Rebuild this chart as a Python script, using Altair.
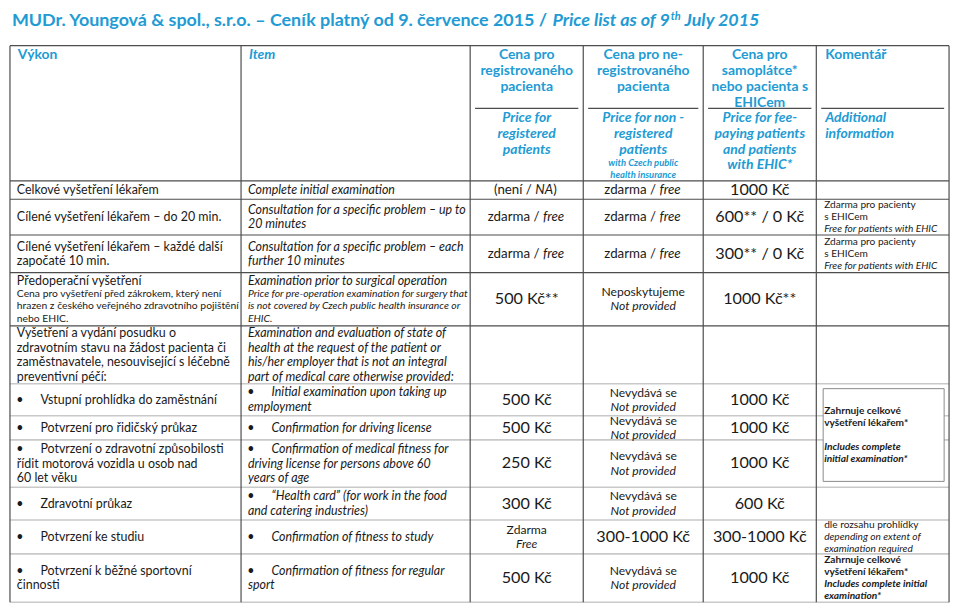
import altair as alt
import pandas as pd

# ---------------- content ----------------
TITLE_CZ = "MUDr. Youngová & spol., s.r.o. – Ceník platný od 9. července 2015 /"
TITLE_EN = "Price list as of 9"
TITLE_SUP = "th"
TITLE_END = "July 2015"

HEAD_LEFT = ["Výkon", "_Item_"]
HEAD_CZ = [["Cena pro", "registrovaného", "pacienta"],
           ["Cena pro ne-", "registrovaného", "pacienta"],
           ["Cena pro", "samoplátce*", "nebo pacienta s", "EHICem"],
           ["Komentář"]]
HEAD_EN = [["Price for", "registered", "patients"],
           ["Price for non -", "registered", "patients"],
           ["Price for fee-", "paying patients", "and patients", "with EHIC*"],
           ["Additional", "information"]]
HEAD_EN_NOTE = [[], ["with Czech public", "health insurance"], [], []]

VYKON = [
    ["Celkové vyšetření lékařem"],
    ["Cílené vyšetření lékařem – do 20 min."],
    ["Cílené vyšetření lékařem – každé další", "započaté 10 min."],
    ["Předoperační vyšetření", "~Cena pro vyšetření před zákrokem, který není",
     "~hrazen z českého veřejného zdravotního pojištění", "~nebo EHIC."],
    ["Vyšetření a vydání posudku o", "zdravotním stavu na žádost pacienta či",
     "zaměstnavatele, nesouvisející s léčebně", "preventivní péčí:"],
    ["• Vstupní prohlídka do zaměstnání"],
    ["• Potvrzení pro řidičský průkaz"],
    ["• Potvrzení o zdravotní způsobilosti", "řídit motorová vozidla u osob nad", "60 let věku"],
    ["• Zdravotní průkaz"],
    ["• Potvrzení ke studiu"],
    ["• Potvrzení k běžné sportovní", "činnosti"],
]
ITEM = [
    ["_Complete initial examination_"],
    ["_Consultation for a specific problem – up to_", "_20 minutes_"],
    ["_Consultation for a specific problem – each_", "_further 10 minutes_"],
    ["_Examination prior to surgical operation_",
     "~_Price for pre-operation examination for surgery that_",
     "~_is not covered by Czech public health insurance or_", "~_EHIC._"],
    ["_Examination and evaluation of state of_", "_health at the request of the patient or_",
     "_his/her employer that is not an integral_", "_part of medical care otherwise provided:_"],
    ["• _Initial examination upon taking up_", "_employment_"],
    ["• _Confirmation for driving license_"],
    ["• _Confirmation of medical fitness for_", "_driving license for persons above 60_", "_years of age_"],
    ["• _“Health card” (for work in the food_", "_and catering industries)_"],
    ["• _Confirmation of fitness to study_"],
    ["• _Confirmation of fitness for regular_", "_sport_"],
]
NOT_ISSUED = ["Nevydává se", "_Not provided_"]
PRICE_REG = [["(není / _NA_)"], ["zdarma / _free_"], ["zdarma / _free_"], ["500 Kč**"], [],
             ["500 Kč"], ["500 Kč"], ["250 Kč"], ["300 Kč"], ["Zdarma", "_Free_"], ["500 Kč"]]
PRICE_NONREG = [["zdarma / _free_"], ["zdarma / _free_"], ["zdarma / _free_"],
                ["Neposkytujeme", "_Not provided_"], [],
                NOT_ISSUED, NOT_ISSUED, NOT_ISSUED, NOT_ISSUED, ["300-1000 Kč"], NOT_ISSUED]
PRICE_SELF = [["1000 Kč"], ["600** / 0 Kč"], ["300** / 0 Kč"], ["1000 Kč**"], [],
              ["1000 Kč"], ["1000 Kč"], ["1000 Kč"], ["600 Kč"], ["300-1000 Kč"], ["1000 Kč"]]
EHIC_NOTE = ["Zdarma pro pacienty", "s EHICem", "_Free for patients with EHIC_"]
COMMENT = [[], EHIC_NOTE, EHIC_NOTE, [], [], [], [], [], [],
           ["dle rozsahu prohlídky", "_depending on extent of_", "_examination required_"],
           ["!Zahrnuje celkové", "!vyšetření lékařem*", "!_Includes complete initial_", "!_examination*_"]]
BOX_COMMENT = ["!Zahrnuje celkové", "!vyšetření lékařem*", "", "!_Includes complete_", "!_initial examination*_"]
BOX_ROWS = (5, 7)  # merged comment cell spans these body rows

# ---------------- layout ----------------
FONT = "Lato"
BLUE = "#229bd4"
BLACK = "#1a1a1a"
W, H = 950, 598
XD, YD = [0, 960], [0, 615]
COL_X = [2, 237, 470, 585, 707, 822, 957]
HEAD_TOP = 37
ROW_Y = [177, 196, 233, 272, 327, 387, 420, 445, 494, 528, 563, 613]
LIGHT_FROM = 5
TITLE_Y, TITLE_X, TITLE_A2 = 12, 4, 673
LEFT_COLS = {0, 1, 5}

STYLE = {
    "n": (12.5, "normal", "normal", BLACK), "ni": (12.5, "normal", "italic", BLACK),
    "p": (12.2, "normal", "normal", BLACK), "pi": (12.2, "normal", "italic", BLACK),
    "q": (13.4, "normal", "normal", BLACK), "qi": (13.4, "normal", "italic", BLACK),
    "s": (10.4, "normal", "normal", BLACK), "si": (10.4, "normal", "italic", BLACK),
    "L": (16.3, "normal", "normal", BLACK), "Li": (16.3, "normal", "italic", BLACK),
    "c": (10.2, "normal", "normal", BLACK), "ci": (10.2, "normal", "italic", BLACK),
    "cb": (10.2, "bold", "normal", BLACK), "cbi": (10.2, "bold", "italic", BLACK),
    "h": (14, "bold", "normal", BLUE), "hi": (14, "bold", "italic", BLUE),
    "hsi": (9.5, "bold", "italic", BLUE),
    "t": (18, "bold", "normal", BLUE), "ti": (18, "bold", "italic", BLUE),
    "tsi": (11, "bold", "italic", BLUE),
}
LINE_H = {"n": 15, "s": 12.6, "L": 16, "c": 12.3, "p": 14.7, "q": 16}

texts = []


def est(text, cls):
    size, weight, style, _ = STYLE[cls]
    w = 0.0
    for ch in text:
        if ch in " il.,:;'|!jtfr()[]/-":
            w += 0.29
        elif ch in "mwMW":
            w += 0.82
        elif ch.isupper():
            w += 0.7
        elif ch.isdigit():
            w += 0.55
        else:
            w += 0.52
    if weight == "bold":
        w *= 1.05
    if style == "italic":
        w *= 0.97
    return w * size


def segments(line):
    parts = line.split("_")
    segs = []
    for k, p in enumerate(parts):
        if p.strip():
            segs.append((p.strip(), k % 2 == 1, p[:1] == " ", p[-1:] == " "))
    return segs


def add(x, y, text, cls, align):
    texts.append(dict(x=x, y=y, text=text, cls=cls, align=align))


def place_line(line_segs, base, x, y, align):
    if not line_segs:
        return
    clss = [base + ("i" if it else "") for _, it, _, _ in line_segs]
    if len(line_segs) == 1:
        add(x, y, line_segs[0][0], clss[0], align)
        return
    size = STYLE[clss[0]][0]
    gap = 0.26 * size
    widths = [est(t, c) for (t, _, _, _), c in zip(line_segs, clss)]
    total = sum(widths) + gap * (len(widths) - 1)
    if align == "center":
        anchor = x - total / 2 + widths[0]
    else:
        anchor = x + widths[0]
    add(anchor, y, line_segs[0][0], clss[0], "right")
    pos = anchor
    for i in range(1, len(line_segs)):
        t, _, lead, _ = line_segs[i]
        if lead or line_segs[i - 1][3]:
            pos += gap
        add(pos, y, t, clss[i], "left")
        pos += widths[i]


def place_cell(lines, kind, col, top, bot):
    parsed = []
    for line in lines:
        bullet = line.startswith("• ")
        if bullet:
            line = line[2:]
        small = line.startswith("~")
        bold = line.startswith("!")
        if small or bold:
            line = line[1:]
        if kind == "comment":
            base = "cb" if bold else "c"
            lh = LINE_H["c"]
        elif kind == "price":
            if "Kč" in line:
                base = "L"
            else:
                base = "q" if len(lines) == 1 else "p"
            lh = LINE_H[base]
        else:
            base = "s" if small else "n"
            lh = LINE_H[base]
        parsed.append((bullet, base, lh, segments(line)))
    total = sum(p[2] for p in parsed)
    y = (top + bot) / 2 - total / 2
    left = COL_X[col]
    for bullet, base, lh, segs in parsed:
        yc = y + lh / 2
        y += lh
        if col in LEFT_COLS:
            x0 = left + (8 if col == 5 else 7)
            if bullet:
                add(left + 10, yc, "•", "n", "center")
                x0 = left + 31
            place_line(segs, base, x0, yc, "left")
        else:
            place_line(segs, base, (COL_X[col] + COL_X[col + 1]) / 2, yc, "center")


# title
add(TITLE_X, TITLE_Y, TITLE_CZ, "t", "left")
add(TITLE_A2, TITLE_Y, TITLE_EN, "ti", "right")
add(TITLE_A2 + 1, TITLE_Y - 5, TITLE_SUP, "tsi", "left")
add(TITLE_A2 + 1 + est(TITLE_SUP, "tsi") + 5, TITLE_Y, TITLE_END, "ti", "left")

# header
rules = []
for c, lab in enumerate(HEAD_LEFT):
    place_line(segments(lab), "h", COL_X[c] + 8, 47, "left")
for k in range(4):
    col = 2 + k
    if col in LEFT_COLS:
        x, al = COL_X[col] + 9, "left"
    else:
        x, al = (COL_X[col] + COL_X[col + 1]) / 2, "center"
    for i, t in enumerate(HEAD_CZ[k]):
        add(x, 47 + 16.3 * i, t, "h", al)
    for i, t in enumerate(HEAD_EN[k]):
        add(x, 112 + 16.3 * i, t, "hi", al)
    for i, t in enumerate(HEAD_EN_NOTE[k]):
        add(x, 159 + 11.6 * i, t, "hsi", al)
    rules.append(dict(x=COL_X[col] + 5, x2=COL_X[col + 1] - 5, y=102, y2=102, kind="dark"))

# body
for r in range(len(VYKON)):
    top, bot = ROW_Y[r], ROW_Y[r + 1]
    place_cell(VYKON[r], "body", 0, top, bot)
    place_cell(ITEM[r], "body", 1, top, bot)
    place_cell(PRICE_REG[r], "price", 2, top, bot)
    place_cell(PRICE_NONREG[r], "price", 3, top, bot)
    place_cell(PRICE_SELF[r], "price", 4, top, bot)
    place_cell(COMMENT[r], "comment", 5, top, bot)

box_top = ROW_Y[BOX_ROWS[0]] + 5
box_bot = ROW_Y[BOX_ROWS[1] + 1] - 6
place_cell(BOX_COMMENT, "comment", 5, box_top, box_bot)

# grid lines
for x in COL_X:
    rules.append(dict(x=x, x2=x, y=HEAD_TOP, y2=ROW_Y[-1], kind="dark"))
for i, y in enumerate([HEAD_TOP] + ROW_Y):
    kind = "dark" if i <= LIGHT_FROM else "light"
    rules.append(dict(x=COL_X[0], x2=COL_X[-1], y=y, y2=y, kind=kind))
rules_df = pd.DataFrame(rules)
text_df = pd.DataFrame(texts)

xs = alt.Scale(domain=XD, nice=False, zero=False)
ys = alt.Scale(domain=YD, nice=False, zero=False, reverse=True)

layers = []
for kind, color, sw in [("light", "#c9c9c9", 1.6), ("dark", "#4d4d4d", 1.2)]:
    sub = rules_df[rules_df.kind == kind]
    layers.append(alt.Chart(sub).mark_rule(color=color, strokeWidth=sw).encode(
        x=alt.X("x:Q", scale=xs, axis=None), x2="x2:Q",
        y=alt.Y("y:Q", scale=ys, axis=None), y2="y2:Q"))

box_df = pd.DataFrame([dict(x=COL_X[5] + 7, x2=COL_X[6] - 5, y=box_top, y2=box_bot)])
layers.append(alt.Chart(box_df).mark_rect(fill="white", stroke="#8a8a8a", strokeWidth=1).encode(
    x=alt.X("x:Q", scale=xs, axis=None), x2="x2:Q",
    y=alt.Y("y:Q", scale=ys, axis=None), y2="y2:Q"))

for (cls, align), sub in text_df.groupby(["cls", "align"]):
    size, weight, style, color = STYLE[cls]
    layers.append(alt.Chart(sub).mark_text(
        align=align, baseline="middle", font=FONT, fontSize=size,
        fontWeight=weight, fontStyle=style, color=color).encode(
        x=alt.X("x:Q", scale=xs, axis=None),
        y=alt.Y("y:Q", scale=ys, axis=None),
        text="text:N"))

chart = alt.layer(*layers).properties(
    width=W, height=H, padding=0,
    autosize=alt.AutoSizeParams(type="none"),
    background="white",
).configure_view(strokeWidth=0)

chart.save("out.html", embed_options={"renderer": "svg", "actions": False})
